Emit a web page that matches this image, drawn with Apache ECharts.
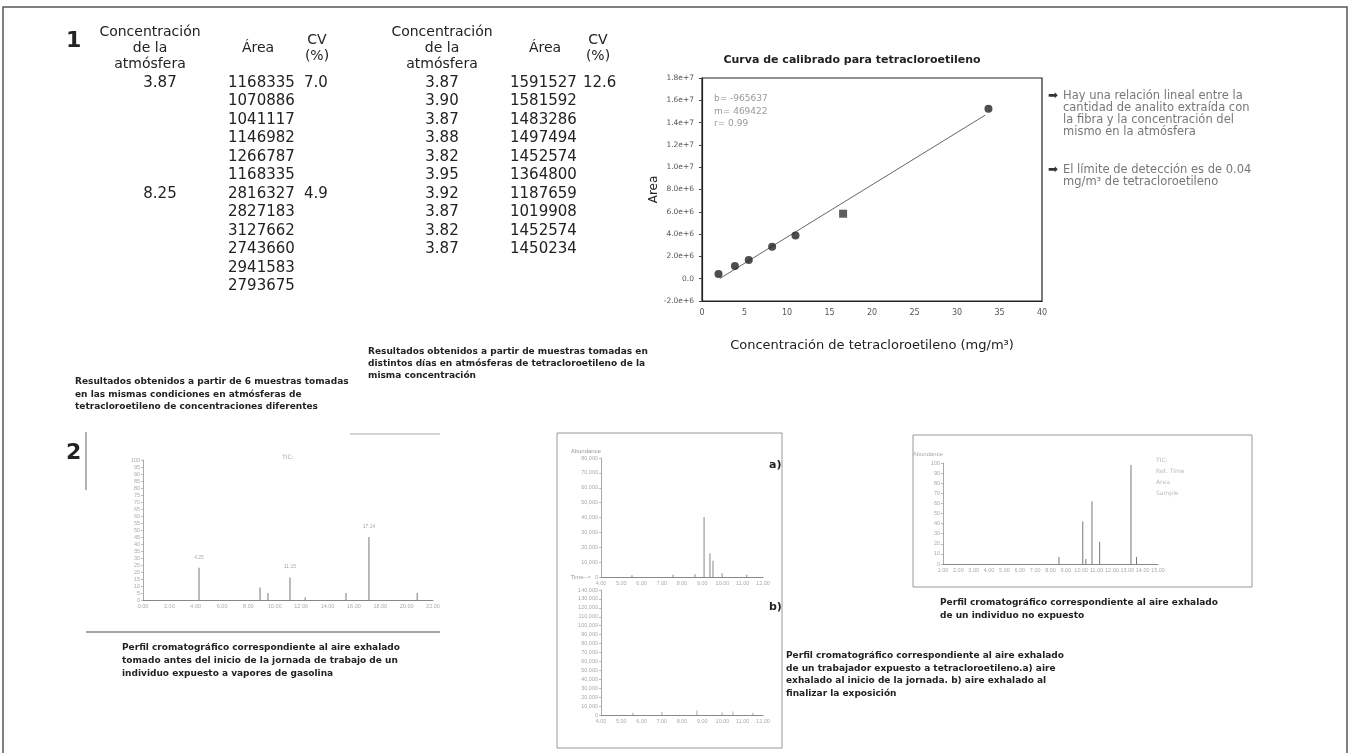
<!DOCTYPE html>
<html><head><meta charset="utf-8">
<script src="https://cdn.jsdelivr.net/npm/echarts@6/dist/echarts.min.js"></script>
<style>html,body{margin:0;padding:0;background:#fff}#c{width:1351px;height:753px}</style>
</head><body><div id="c"></div><script>
// ---------- Calibration curve data ----------
const calConc = [1.94, 3.87, 5.5, 8.25, 11.0, 33.7];
const calArea = [420000, 1140000, 1670000, 2860000, 3880000, 15250000];
const outConc = [16.6];
const outArea = [5830000];
const fitConc = [2.1, 33.3];
const fitArea = [20000, 14660000];
const fitText = ['b= -965637', 'm= 469422', 'r= 0.99'];

// ---------- Table 1 ----------
const t1Conc = ['3.87', '8.25'];
const t1Area = ['1168335','1070886','1041117','1146982','1266787','1168335',
                '2816327','2827183','3127662','2743660','2941583','2793675'];
const t1CV = ['7.0', '4.9'];
// ---------- Table 2 ----------
const t2Conc = ['3.87','3.90','3.87','3.88','3.82','3.95','3.92','3.87','3.82','3.87'];
const t2Area = ['1591527','1581592','1483286','1497494','1452574','1364800','1187659','1019908','1452574','1450234'];
const t2CV = ['12.6'];
const headConc = ['Concentración', 'de la', 'atmósfera'];

// ---------- Chromatograms ----------
const chL_t = [4.25, 8.88, 9.48, 11.15, 12.3, 15.4, 17.14, 20.8];
const chL_h = [23, 9, 5, 16, 2, 5, 45, 5];
const chMa_t = [5.53, 7.56, 8.64, 9.09, 9.38, 9.53, 9.98, 11.2];
const chMa_h = [1200, 1500, 1800, 40300, 16000, 11000, 2500, 1500];
const chMb_t = [5.58, 7.01, 8.74, 9.98, 10.52, 11.5];
const chMb_h = [2500, 3500, 5000, 3000, 4000, 2500];
const chR_t = [8.55, 10.1, 10.3, 10.7, 11.2, 13.24, 13.6];
const chR_h = [7, 42, 5, 62, 22, 98, 7];

const notes1 = ['Hay una relación lineal entre la', 'cantidad de analito extraída con',
                'la fibra y la concentración del', 'mismo en la atmósfera'];
const notes2 = ['El límite de detección es de 0.04', 'mg/m³ de tetracloroetileno'];
const cap1 = ['Resultados obtenidos a partir de 6 muestras tomadas',
              'en las mismas condiciones en atmósferas de',
              'tetracloroetileno de concentraciones diferentes'];
const cap2 = ['Resultados obtenidos a partir de muestras tomadas en',
              'distintos días en atmósferas de tetracloroetileno de la',
              'misma concentración'];
const capL = ['Perfil cromatográfico correspondiente al aire exhalado',
              'tomado antes del inicio de la jornada de trabajo de un',
              'individuo expuesto a vapores de gasolina'];
const capM = ['Perfil cromatográfico correspondiente al aire exhalado',
              'de un trabajador expuesto a tetracloroetileno.a) aire',
              'exhalado al inicio de la jornada. b) aire exhalado al',
              'finalizar la exposición'];
const capR = ['Perfil cromatográfico correspondiente al aire exhalado',
              'de un individuo no expuesto'];

const FONT = 'DejaVu Sans';
const g = [];
function txt(x, y, s, o) {
  g.push({type:'text', x:x, y:y, silent:true,
    style: Object.assign({text:s, font:'15px "'+FONT+'"', fill:'#222', textAlign:'left', textVerticalAlign:'middle'}, o||{})});
}
function line(x1,y1,x2,y2,c,w){ g.push({type:'line', silent:true, shape:{x1,y1,x2,y2}, style:{stroke:c||'#444', lineWidth:w||1}}); }
// page frame
g.push({type:'rect', silent:true, shape:{x:3,y:7,width:1344,height:750}, style:{fill:'none', stroke:'#555', lineWidth:1.5}});
txt(66, 41, '1', {font:'bold 22px "'+FONT+'"'});
txt(66, 453, '2', {font:'bold 22px "'+FONT+'"'});

// Table 1
const hf = '14px "'+FONT+'"';
headConc.forEach((s,i)=>txt(150, 32+16*i, s, {font:hf, textAlign:'center'}));
txt(258, 48, 'Área', {font:hf, textAlign:'center'});
txt(317, 40, 'CV', {font:hf, textAlign:'center'});
txt(317, 56, '(%)', {font:hf, textAlign:'center'});
const nf = '15px "'+FONT+'"';
t1Area.forEach((s,i)=>txt(228, 83+18.5*i, s, {font:nf}));
t1Conc.forEach((s,i)=>txt(160, 83+18.5*6*i, s, {font:nf, textAlign:'center'}));
t1CV.forEach((s,i)=>txt(304, 83+18.5*6*i, s, {font:nf}));
cap1.forEach((s,i)=>txt(75, 382+12.5*i, s, {font:'bold 9px "'+FONT+'"'}));

// Table 2
headConc.forEach((s,i)=>txt(442, 32+16*i, s, {font:hf, textAlign:'center'}));
txt(545, 48, 'Área', {font:hf, textAlign:'center'});
txt(598, 40, 'CV', {font:hf, textAlign:'center'});
txt(598, 56, '(%)', {font:hf, textAlign:'center'});
t2Conc.forEach((s,i)=>txt(442, 83+18.5*i, s, {font:nf, textAlign:'center'}));
t2Area.forEach((s,i)=>txt(510, 83+18.5*i, s, {font:nf}));
t2CV.forEach((s,i)=>txt(583, 83+18.5*i, s, {font:nf}));
cap2.forEach((s,i)=>txt(368, 352+12*i, s, {font:'bold 9px "'+FONT+'"'}));

// calibration title, fit text
txt(852, 60, 'Curva de calibrado para tetracloroetileno', {font:'bold 11px "'+FONT+'"', textAlign:'center'});
fitText.forEach((s,i)=>txt(714, 99+12.5*i, s, {font:'9px "'+FONT+'"', fill:'#999'}));

// notes
const rf = '11.5px "'+FONT+'"';
txt(1048, 96, '➡', {font:'12px "'+FONT+'"', fill:'#333'});
notes1.forEach((s,i)=>txt(1063, 96+12*i, s, {font:rf, fill:'#777'}));
txt(1048, 170, '➡', {font:'12px "'+FONT+'"', fill:'#333'});
notes2.forEach((s,i)=>txt(1063, 170+12*i, s, {font:rf, fill:'#777'}));

// chromatogram frames
line(86, 432, 86, 490, '#999', 1.5);
line(86, 632, 440, 632, '#888', 1.5);
line(350, 434, 440, 434, '#aaa', 1);
g.push({type:'rect', silent:true, shape:{x:557,y:433,width:225,height:315}, style:{fill:'none', stroke:'#999', lineWidth:1}});
g.push({type:'rect', silent:true, shape:{x:913,y:435,width:339,height:152}, style:{fill:'none', stroke:'#999', lineWidth:1}});
txt(282, 457, 'TIC:', {font:'6px "'+FONT+'"', fill:'#aaa'});
txt(769, 465, 'a)', {font:'bold 11px "'+FONT+'"'});
txt(769, 607, 'b)', {font:'bold 11px "'+FONT+'"'});
['TIC:', 'Ret. Time', 'Area', 'Sample'].forEach((s,i)=>txt(1156, 460+11*i, s, {font:'6px "'+FONT+'"', fill:'#bbb'}));
const cf = 'bold 9px "'+FONT+'"';
capL.forEach((s,i)=>txt(122, 648+13*i, s, {font:cf}));
capM.forEach((s,i)=>txt(786, 656+12.5*i, s, {font:cf}));
capR.forEach((s,i)=>txt(940, 603+12.5*i, s, {font:cf}));

const sci = v => v === 0 ? '0.0' : v.toExponential(1);
const tiny = {fontSize:5.5, color:'#aaa', margin:3};
const pairs = (t,h) => t.map((x,i)=>[x,h[i]]);
const chromX = (idx,min,max,iv,extra) => Object.assign({type:'value', gridIndex:idx, min, max, interval:iv, axisLine:{lineStyle:{color:'#888'}}, axisTick:{show:false}, splitLine:{show:false}, axisLabel:Object.assign({formatter:v=>v.toFixed(2)}, tiny)}, extra||{});
const chromY = (idx,max,iv,extra) => Object.assign({type:'value', gridIndex:idx, min:0, max, interval:iv, axisLine:{show:true, lineStyle:{color:'#aaa'}}, axisTick:{show:true, length:2, lineStyle:{color:'#bbb'}}, splitLine:{show:false}, axisLabel:Object.assign({}, tiny)}, extra||{});

const chart = echarts.init(document.getElementById('c'), null, {renderer:'canvas'});
chart.setOption({
  backgroundColor:'#fff', animation:false,
  grid:[
    {left:702, top:78, width:340, height:223, show:true, borderColor:'#222', borderWidth:1.2, backgroundColor:'transparent'},
    {left:143, top:460, width:290, height:140},
    {left:601, top:458, width:162, height:119},
    {left:601, top:590, width:162, height:125},
    {left:943, top:463, width:215, height:101}
  ],
  xAxis:[
    {type:'value', gridIndex:0, min:0, max:40, interval:5, name:'Concentración de tetracloroetileno (mg/m³)',
     nameLocation:'middle', nameGap:38, nameTextStyle:{fontFamily:FONT, fontSize:13, color:'#222'},
     axisLine:{onZero:false, lineStyle:{color:'#222', width:1.2}}, axisTick:{show:false}, splitLine:{show:false},
     axisLabel:{fontFamily:FONT, fontSize:8, color:'#555', margin:8}},
    chromX(1, 0, 22, 2),
    chromX(2, 4, 12, 1, {name:'Time-->', nameLocation:'start', nameGap:6, nameTextStyle:{fontSize:6, color:'#999', padding:[12,0,0,0]}}),
    chromX(3, 4, 12, 1),
    chromX(4, 1, 15, 1, {axisLabel:Object.assign({formatter:v=>v.toFixed(2)}, tiny)})
  ],
  yAxis:[
    {type:'value', gridIndex:0, min:-2000000, max:18000000, interval:2000000, name:'Area',
     nameLocation:'middle', nameGap:42, nameTextStyle:{fontFamily:FONT, fontSize:12, color:'#222'},
     axisLine:{onZero:false, lineStyle:{color:'#222', width:1.2}}, axisTick:{show:true, length:3, lineStyle:{color:'#444'}}, splitLine:{show:false},
     axisLabel:{fontFamily:FONT, fontSize:7.5, color:'#555', margin:8, formatter:sci}},
    chromY(1, 100, 5),
    chromY(2, 80000, 10000, {name:'Abundance', nameLocation:'end', nameGap:4, nameTextStyle:{fontSize:6, color:'#999', align:'right'}}),
    chromY(3, 140000, 10000),
    chromY(4, 100, 10, {name:'Abundance', nameLocation:'end', nameGap:6, nameTextStyle:{fontSize:6, color:'#aaa', align:'right'}})
  ],
  series:[
    {type:'line', xAxisIndex:0, yAxisIndex:0, data:pairs(fitConc, fitArea), showSymbol:false, symbol:'none',
     lineStyle:{color:'#666', width:1}, z:2},
    {type:'scatter', xAxisIndex:0, yAxisIndex:0, data:pairs(calConc, calArea), symbol:'circle', symbolSize:8,
     itemStyle:{color:'#222'}, z:3},
    {type:'scatter', xAxisIndex:0, yAxisIndex:0, data:pairs(outConc, outArea), symbol:'rect', symbolSize:8,
     itemStyle:{color:'#333'}, z:3},
    {type:'bar', xAxisIndex:1, yAxisIndex:1, data:pairs(chL_t, chL_h), barWidth:1, itemStyle:{color:'#777'},
     label:{show:true, position:'top', distance:8, fontSize:5, color:'#aaa', formatter:p=>p.value[1]>10?p.value[0].toFixed(2):''}},
    {type:'bar', xAxisIndex:2, yAxisIndex:2, data:pairs(chMa_t, chMa_h), barWidth:1, itemStyle:{color:'#888'}},
    {type:'bar', xAxisIndex:3, yAxisIndex:3, data:pairs(chMb_t, chMb_h), barWidth:1, itemStyle:{color:'#aaa'}},
    {type:'bar', xAxisIndex:4, yAxisIndex:4, data:pairs(chR_t, chR_h), barWidth:1, itemStyle:{color:'#777'}}
  ],
  graphic: g
});
</script></body></html>
